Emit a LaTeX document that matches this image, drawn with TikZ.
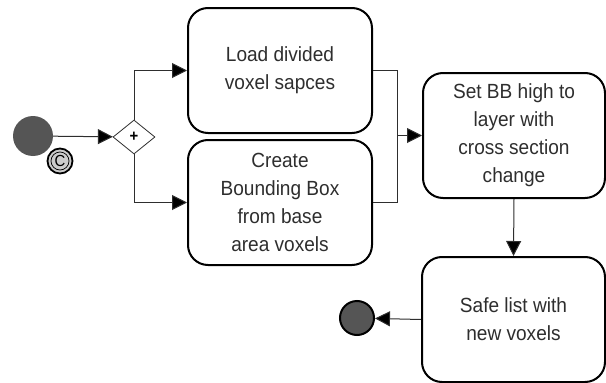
\documentclass[tikz,border=0pt]{standalone}
\usepackage{fontspec}
\setmainfont[FakeStretch=0.93]{Liberation Sans}
\usetikzlibrary{arrows.meta,shapes.geometric,calc}
\definecolor{ink}{HTML}{2E2E2E}
\definecolor{disc}{HTML}{555555}
\begin{document}
\begin{tikzpicture}[x=1pt,y=-1pt,
  task/.style={draw=black,line width=2pt,rounded corners=20pt,fill=white,
    align=center,text=ink,inner sep=0pt,
    font=\fontsize{20.5}{28}\selectfont},
  conn/.style={draw=ink,line width=1pt},
  flow/.style={conn,-{Triangle[length=15pt,width=15pt,fill=black]}},
  gate/.style={diamond,draw=ink,line width=0.8pt,fill=white,
    minimum width=42pt,minimum height=34pt,inner sep=0pt}
]
\useasboundingbox (0,0) rectangle (606,383);

% events
\node[circle,fill=disc,minimum size=40pt,inner sep=0pt] (start) at (33,136) {};
\node[circle,fill=disc,draw=black,line width=2pt,minimum size=34pt,inner sep=0pt] (end) at (357,318) {};

% compensation marker on the start event
\node[circle,fill=black!20,draw=black,line width=1.8pt,minimum size=25pt,inner sep=0pt] (badge) at (60,161) {};
\node[circle,draw=black,line width=0.7pt,minimum size=18pt,inner sep=0pt,
  font=\fontsize{16}{16}\selectfont] (badgec) at (badge.center) {C};

% parallel gateway
\node[gate] (gw) at (134,137) {};
\node[font=\fontsize{16}{16}\bfseries\selectfont,text=black] (plus) at (gw.center) {+};

% tasks
\node[task,minimum width=184pt,minimum height=125pt] (load) at (280,70.5)
  {Load divided\\voxel sapces};
\node[task,minimum width=184pt,minimum height=125pt] (create) at (280,202.5)
  {Create\\Bounding Box\\from base\\area voxels};
\node[task,minimum width=182pt,minimum height=125pt] (set) at (514,135.5)
  {Set BB high to\\layer with\\cross section\\change};
\node[task,minimum width=183pt,minimum height=125pt] (safe) at (513.5,319.5)
  {Safe list with\\new voxels};

% joining point of the two branches
\coordinate (join) at (397,136);

% connectors
\draw[flow] (start) -- (gw);
\draw[flow] (gw.north) |- (load.west);
\draw[flow] (gw.south) |- (create.west);
\draw[conn] (load.east) -| (join);
\draw[conn] (create.east) -| (join);
\draw[flow] (join |- set.west) -- (set.west);
\draw[flow] (set.south) -- (safe.north);
\draw[flow] (safe.west) -- (end);
\end{tikzpicture}
\end{document}
